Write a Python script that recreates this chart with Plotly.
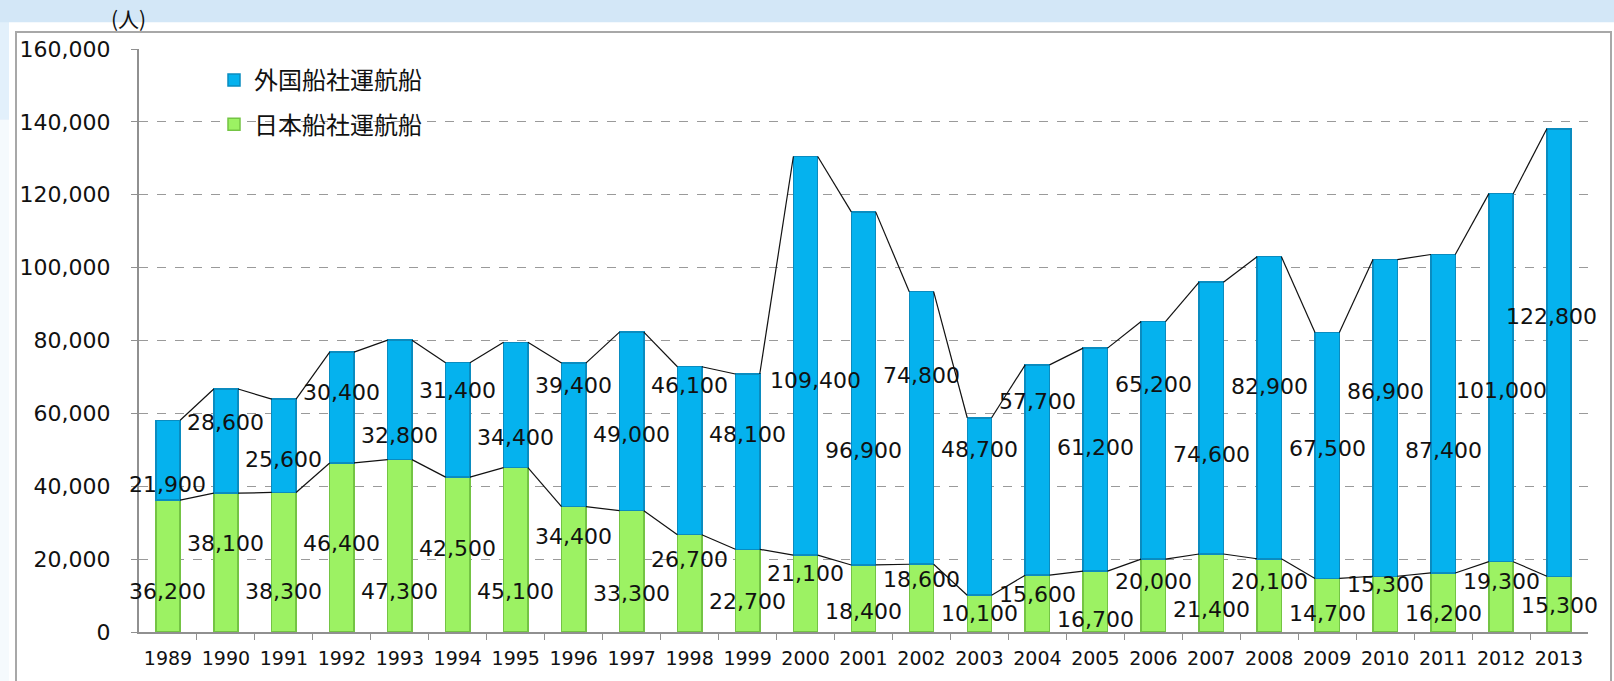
import plotly.graph_objects as go

# ---------------- data ----------------
years = ["1989", "1990", "1991", "1992", "1993", "1994", "1995", "1996", "1997",
         "1998", "1999", "2000", "2001", "2002", "2003", "2004", "2005", "2006",
         "2007", "2008", "2009", "2010", "2011", "2012", "2013"]
japan = [36200, 38100, 38300, 46400, 47300, 42500, 45100, 34400, 33300, 26700,
         22700, 21100, 18400, 18600, 10100, 15600, 16700, 20000, 21400, 20100,
         14700, 15300, 16200, 19300, 15300]
foreign = [21900, 28600, 25600, 30400, 32800, 31400, 34400, 39400, 49000, 46100,
           48100, 109400, 96900, 74800, 48700, 57700, 61200, 65200, 74600, 82900,
           67500, 86900, 87400, 101000, 122800]
name_foreign = "外国船社運航船"
name_japan = "日本船社運航船"
yticks = [0, 20000, 40000, 60000, 80000, 100000, 120000, 140000, 160000]

# label placement (layout only, in axis units)
japan_label_y = [11200, 24300, 11200, 24300, 11200, 22900, 11200, 26200, 10600, 19900,
                 8400, 16100, 5600, 14400, 5200, 10400, 3500, 13900, 6300, 13900,
                 5200, 13100, 5200, 13900, 7400]
foreign_label_y = [40600, 57500, 47400, 65700, 54000, 66200, 53400, 67600, 54200, 67600,
                   54200, 69000, 49900, 70300, 50200, 63200, 50700, 67900, 48800, 67300,
                   50400, 66000, 49900, 66200, 86700]
foreign_label_dx = [0] * 11 + [10] + [0] * 12 + [-8]

# ---------------- geometry helpers ----------------
W, H = 1614, 681
L, R, T, B = 139, 1588, 49, 636
BARW = 0.42


def px(xp):
    return (xp - L) / (R - L)


def py(yp):
    return (B - yp) / (B - T)


xs = list(range(len(years)))
totals = [a + b for a, b in zip(japan, foreign)]


def series_line(vals):
    lx, ly = [], []
    for i in range(len(vals) - 1):
        lx += [xs[i] + BARW / 2, xs[i + 1] - BARW / 2, None]
        ly += [vals[i], vals[i + 1], None]
    return lx, ly


fig = go.Figure()
fig.add_trace(go.Bar(
    x=xs, y=japan, name=name_japan, width=BARW, legendgroup="jp", legendrank=2,
    marker=dict(color="#9cf263", line=dict(color="#74c444", width=1.5)),
    hoverinfo="skip"))
fig.add_trace(go.Bar(
    x=xs, y=foreign, name=name_foreign, width=BARW, legendgroup="fg", legendrank=1,
    marker=dict(color="#05b2ee", line=dict(color="#0a8cc0", width=1.5)),
    hoverinfo="skip"))

for vals in (totals, japan):
    lx, ly = series_line(vals)
    fig.add_trace(go.Scatter(x=lx, y=ly, mode="lines", showlegend=False,
                             line=dict(color="#111111", width=1.2),
                             hoverinfo="skip"))

annotations = []
for i in xs:
    annotations.append(dict(x=xs[i], y=japan_label_y[i], xref="x", yref="y",
                            text=f"{japan[i]:,}", showarrow=False,
                            xanchor="center", yanchor="middle",
                            font=dict(family="DejaVu Sans", size=22, color="#111111")))
    annotations.append(dict(x=xs[i], y=foreign_label_y[i], xref="x", yref="y",
                            xshift=foreign_label_dx[i],
                            xanchor="center", yanchor="middle",
                            text=f"{foreign[i]:,}", showarrow=False,
                            font=dict(family="DejaVu Sans", size=22, color="#111111")))
annotations.append(dict(x=px(128), y=py(18), xref="paper", yref="paper",
                        xanchor="center", yanchor="middle",
                        text="(人)", showarrow=False,
                        font=dict(family="Noto Sans CJK JP", size=21, color="#111111")))

shapes = [
    # white panel
    dict(type="rect", xref="paper", yref="paper", x0=px(9), x1=px(W + 5),
         y0=py(H + 5), y1=py(22), fillcolor="white", line=dict(width=0), layer="below"),
    # left strip fade
    dict(type="rect", xref="paper", yref="paper", x0=px(-5), x1=px(9),
         y0=py(120), y1=py(22), fillcolor="#e2f0fb", line=dict(width=0), layer="below"),
    dict(type="rect", xref="paper", yref="paper", x0=px(-5), x1=px(9),
         y0=py(H + 5), y1=py(120), fillcolor="#f5fafd", line=dict(width=0), layer="below"),
    # gray frame
    dict(type="rect", xref="paper", yref="paper", x0=px(16), x1=px(1611),
         y0=py(H + 20), y1=py(32), fillcolor="rgba(0,0,0,0)",
         line=dict(color="#a8a8a8", width=2), layer="below"),
]

fig.update_layout(
    width=W, height=H,
    margin=dict(l=L, r=W - R, t=T, b=H - B, pad=0),
    paper_bgcolor="#d3e7f7",
    plot_bgcolor="rgba(0,0,0,0)",
    barmode="stack",
    showlegend=True,
    legend=dict(x=px(214), y=py(58), xanchor="left", yanchor="top",
                traceorder="grouped", tracegroupgap=10,
                bgcolor="rgba(0,0,0,0)",
                font=dict(family="Noto Sans CJK JP", size=24, color="#111111")),
    font=dict(family="DejaVu Sans", color="#111111"),
    xaxis=dict(range=[-0.5, len(years) - 0.5], tickmode="array", tickvals=xs,
               ticktext=years, ticks="", showgrid=False, zeroline=False,
               showline=True, linecolor="#909090", linewidth=2,
               ticklabelstandoff=8,
               tickfont=dict(family="DejaVu Sans", size=19, color="#111111"),
               minor=dict(tickmode="array",
                          tickvals=[x + 0.5 for x in xs[:-1]],
                          ticks="outside", ticklen=6, tickcolor="#909090",
                          tickwidth=1, showgrid=False)),
    yaxis=dict(range=[0, 160000], tickmode="array", tickvals=yticks,
               tickformat=",", showgrid=True, gridcolor="#9a9a9a", gridwidth=1,
               griddash="dash", zeroline=False, showline=True,
               linecolor="#909090", linewidth=2, ticks="outside", ticklen=6,
               tickcolor="#909090", ticklabelstandoff=16,
               tickfont=dict(family="DejaVu Sans", size=22, color="#111111")),
    annotations=annotations,
    shapes=shapes,
)

fig.write_html("out.html",
               config={"displayModeBar": False},
               post_script="document.body.style.margin='0px';"
                           "document.body.style.overflow='hidden';")
